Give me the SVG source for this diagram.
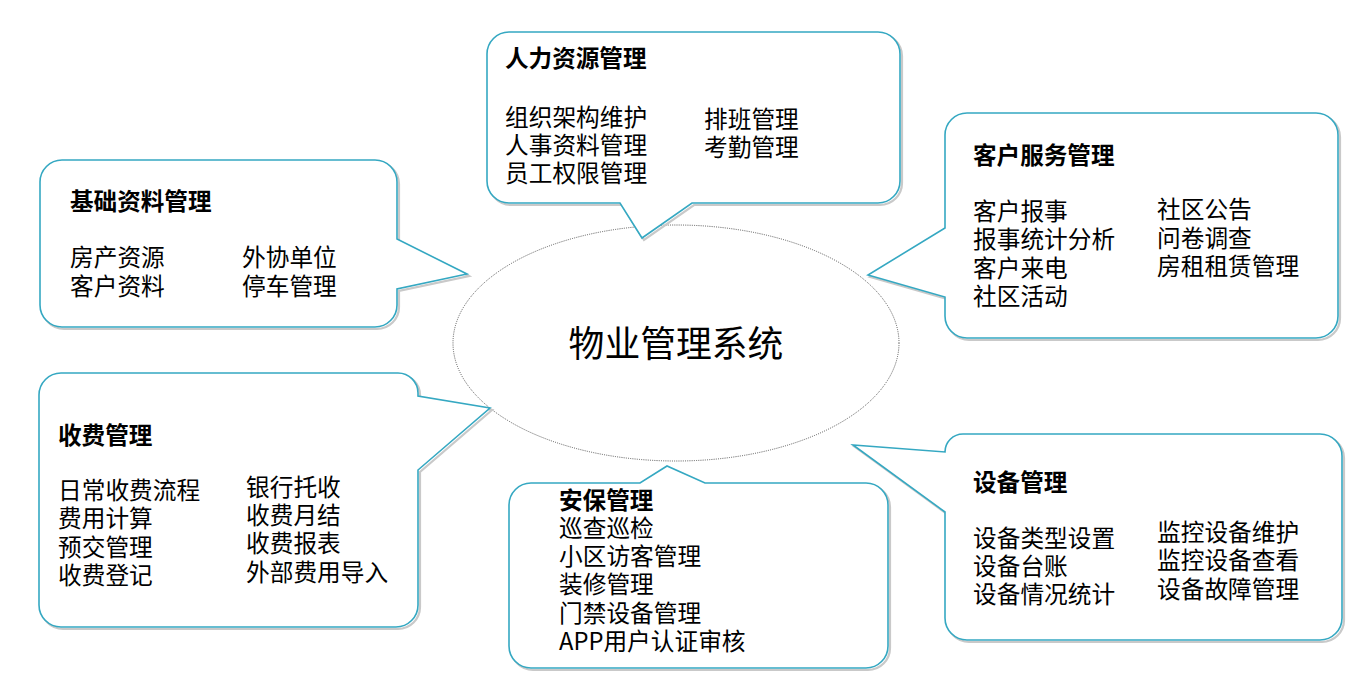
<svg xmlns="http://www.w3.org/2000/svg" xmlns:xlink="http://www.w3.org/1999/xlink" width="1369" height="689" viewBox="0 0 1369 689">
<style>
.bub{fill:#fff;stroke:#35a8c2;stroke-width:1.6;stroke-linejoin:miter}
.sh{fill:none;stroke:#c9c9c9;stroke-width:2.2}
text{font-family:"Microsoft YaHei","Noto Sans CJK SC","Noto Sans",sans-serif;fill:#000}
.t{font-size:23.6px;font-weight:bold}
.i{font-size:23.7px}
.c{font-size:35.8px}
.ell{fill:#fff;stroke:#555;stroke-width:1;stroke-dasharray:1 1.2}
</style>
<rect width="1369" height="689" fill="#fff"/>
<g id="center">
<ellipse class="ell" cx="676" cy="343" rx="223" ry="118"/>
<text class="c" x="676" y="357" text-anchor="middle">物业管理系统</text>
</g>
<g id="connectors"></g>
<g id="jichu">
<path d="M62,160 H375 A22 22 0 0 1 397,182 V239 L467,274 L397,289 V305 A22 22 0 0 1 375,327 H62 A22 22 0 0 1 40,305 V182 A22 22 0 0 1 62,160 Z" class="sh" transform="translate(2,2)"/>
<path d="M62,160 H375 A22 22 0 0 1 397,182 V239 L467,274 L397,289 V305 A22 22 0 0 1 375,327 H62 A22 22 0 0 1 40,305 V182 A22 22 0 0 1 62,160 Z" class="bub"/>
<text class="t" x="70" y="210">基础资料管理</text>
<text class="i" x="70" y="266">房产资源</text>
<text class="i" x="70" y="295">客户资料</text>
<text class="i" x="242" y="266">外协单位</text>
<text class="i" x="242" y="295">停车管理</text>
</g>
<g id="renli">
<path d="M509,32 H878 A22 22 0 0 1 900,54 V181 A22 22 0 0 1 878,203 H692 L642,238 L620,203 H509 A22 22 0 0 1 487,181 V54 A22 22 0 0 1 509,32 Z" class="sh" transform="translate(2,2)"/>
<path d="M509,32 H878 A22 22 0 0 1 900,54 V181 A22 22 0 0 1 878,203 H692 L642,238 L620,203 H509 A22 22 0 0 1 487,181 V54 A22 22 0 0 1 509,32 Z" class="bub"/>
<text class="t" x="505" y="67">人力资源管理</text>
<text class="i" x="505" y="126">组织架构维护</text>
<text class="i" x="505" y="154">人事资料管理</text>
<text class="i" x="505" y="182">员工权限管理</text>
<text class="i" x="704" y="128">排班管理</text>
<text class="i" x="704" y="156">考勤管理</text>
</g>
<g id="kehu">
<path d="M967,113 H1316 A22 22 0 0 1 1338,135 V316 A22 22 0 0 1 1316,338 H967 A22 22 0 0 1 945,316 V297 L868,275 L945,228 V135 A22 22 0 0 1 967,113 Z" class="sh" transform="translate(2,2)"/>
<path d="M967,113 H1316 A22 22 0 0 1 1338,135 V316 A22 22 0 0 1 1316,338 H967 A22 22 0 0 1 945,316 V297 L868,275 L945,228 V135 A22 22 0 0 1 967,113 Z" class="bub"/>
<text class="t" x="973" y="164">客户服务管理</text>
<text class="i" x="973" y="220">客户报事</text>
<text class="i" x="973" y="248">报事统计分析</text>
<text class="i" x="973" y="277">客户来电</text>
<text class="i" x="973" y="305">社区活动</text>
<text class="i" x="1157" y="218">社区公告</text>
<text class="i" x="1157" y="247">问卷调查</text>
<text class="i" x="1157" y="275">房租租赁管理</text>
</g>
<g id="shoufei">
<path d="M61,373 H398 A20 20 0 0 1 418,393 V396 L490,408 L418,470 V605 A22 22 0 0 1 396,627 H61 A22 22 0 0 1 39,605 V395 A22 22 0 0 1 61,373 Z" class="sh" transform="translate(2,2)"/>
<path d="M61,373 H398 A20 20 0 0 1 418,393 V396 L490,408 L418,470 V605 A22 22 0 0 1 396,627 H61 A22 22 0 0 1 39,605 V395 A22 22 0 0 1 61,373 Z" class="bub"/>
<text class="t" x="58" y="444">收费管理</text>
<text class="i" x="58" y="499">日常收费流程</text>
<text class="i" x="58" y="527">费用计算</text>
<text class="i" x="58" y="556">预交管理</text>
<text class="i" x="58" y="584">收费登记</text>
<text class="i" x="246" y="496">银行托收</text>
<text class="i" x="246" y="524">收费月结</text>
<text class="i" x="246" y="552">收费报表</text>
<text class="i" x="246" y="581">外部费用导入</text>
</g>
<g id="anbao">
<path d="M531,483 H640 L667,466 L705,483 H866 A22 22 0 0 1 888,505 V646 A22 22 0 0 1 866,668 H531 A22 22 0 0 1 509,646 V505 A22 22 0 0 1 531,483 Z" class="sh" transform="translate(2,2)"/>
<path d="M531,483 H640 L667,466 L705,483 H866 A22 22 0 0 1 888,505 V646 A22 22 0 0 1 866,668 H531 A22 22 0 0 1 509,646 V505 A22 22 0 0 1 531,483 Z" class="bub"/>
<text class="t" x="559" y="509">安保管理</text>
<text class="i" x="559" y="537">巡查巡检</text>
<text class="i" x="559" y="565">小区访客管理</text>
<text class="i" x="559" y="593">装修管理</text>
<text class="i" x="559" y="622">门禁设备管理</text>
<text class="i" x="559" y="650">APP用户认证审核</text>
</g>
<g id="shebei">
<path d="M963,434 H1320 A22 22 0 0 1 1342,456 V618 A22 22 0 0 1 1320,640 H967 A22 22 0 0 1 945,618 V512 L853,445 L945,452 A18 18 0 0 1 963,434 Z" class="sh" transform="translate(2,2)"/>
<path d="M963,434 H1320 A22 22 0 0 1 1342,456 V618 A22 22 0 0 1 1320,640 H967 A22 22 0 0 1 945,618 V512 L853,445 L945,452 A18 18 0 0 1 963,434 Z" class="bub"/>
<text class="t" x="973" y="491">设备管理</text>
<text class="i" x="973" y="547">设备类型设置</text>
<text class="i" x="973" y="575">设备台账</text>
<text class="i" x="973" y="603">设备情况统计</text>
<text class="i" x="1157" y="541">监控设备维护</text>
<text class="i" x="1157" y="569">监控设备查看</text>
<text class="i" x="1157" y="598">设备故障管理</text>
</g>
</svg>
